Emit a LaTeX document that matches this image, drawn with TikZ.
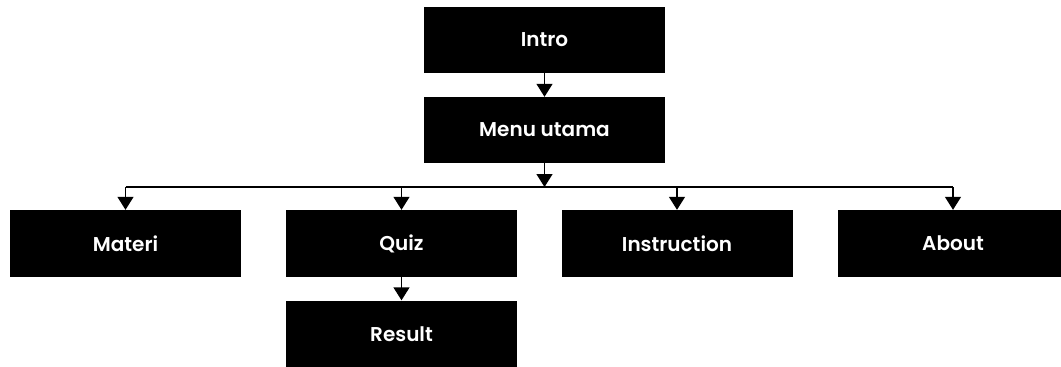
\documentclass[tikz,border=0pt]{standalone}
\usepackage{fontspec}
\setmainfont{Poppins}[BoldFont={Poppins SemiBold}]
\usetikzlibrary{arrows.meta}
\begin{document}
\begin{tikzpicture}[x=1pt,y=-1pt,
  box/.style={rectangle, fill=black, text=white, inner sep=0pt, minimum height=66pt, font=\fontsize{20}{24}\selectfont\bfseries},
  wide/.style={box, minimum width=241pt},
  narrow/.style={box, minimum width=231pt},
  conn/.style={line width=1.4pt, -{Triangle[width=16pt,length=13pt]}},
  bus/.style={line width=1.4pt}]
\useasboundingbox (0,0) rectangle (1061,367);
\node[wide] (intro) at (544.5,39.5) {Intro};
\node[wide] (menu) at (544.5,130) {Menu utama};
\node[narrow, minimum height=67pt] (materi) at (125.5,243.5) {Materi};
\node[narrow, minimum height=67pt] (quiz) at (401.5,243.5) {Quiz};
\node[narrow, minimum height=67pt] (instr) at (677,243.5) {Instruction};
\node[narrow, minimum height=67pt] (about) at (953,243.5) {About};
\node[narrow, minimum height=67pt] (result) at (401.5,334) {Result};
\coordinate (busy) at (0,187);
\coordinate (busL) at (materi.north |- busy);
\coordinate (busR) at (about.north |- busy);
\draw[conn] (intro.south) -- (menu.north);
\draw[conn] (menu.south) -- (menu.south |- busy);
\draw[bus] (busL) -- (busR);
\draw[conn] (busL) -- (materi.north);
\draw[conn] (quiz.north |- busy) -- (quiz.north);
\draw[conn] (instr.north |- busy) -- (instr.north);
\draw[conn] (busR) -- (about.north);
\draw[conn] (quiz.south) -- (result.north);
\end{tikzpicture}
\end{document}
